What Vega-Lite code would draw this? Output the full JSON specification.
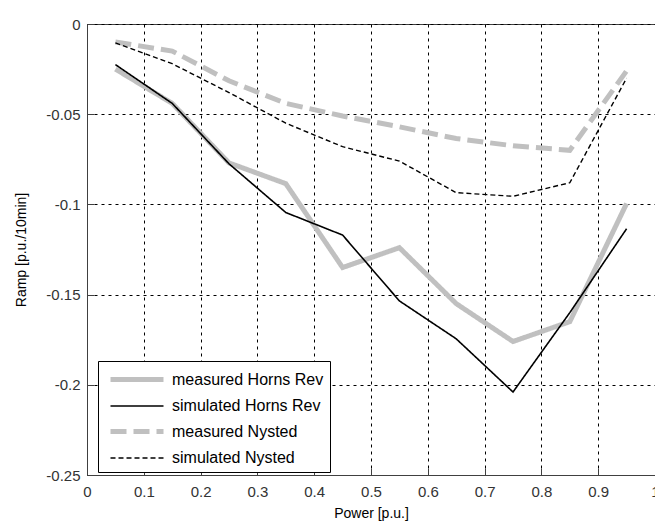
{
  "$schema": "https://vega.github.io/schema/vega-lite/v6.json",
  "width": 568,
  "height": 451,
  "autosize": {"type": "none"},
  "padding": {"left": 87, "top": 24, "right": 0, "bottom": 48},
  "background": "white",
  "data": {
    "values": [
      {"series": "measured Horns Rev", "power": 0.05, "ramp": -0.025},
      {"series": "measured Horns Rev", "power": 0.15, "ramp": -0.044},
      {"series": "measured Horns Rev", "power": 0.25, "ramp": -0.077},
      {"series": "measured Horns Rev", "power": 0.35, "ramp": -0.0885},
      {"series": "measured Horns Rev", "power": 0.45, "ramp": -0.135},
      {"series": "measured Horns Rev", "power": 0.55, "ramp": -0.124},
      {"series": "measured Horns Rev", "power": 0.65, "ramp": -0.155},
      {"series": "measured Horns Rev", "power": 0.75, "ramp": -0.176},
      {"series": "measured Horns Rev", "power": 0.85, "ramp": -0.165},
      {"series": "measured Horns Rev", "power": 0.95, "ramp": -0.0995},
      {"series": "simulated Horns Rev", "power": 0.05, "ramp": -0.0225},
      {"series": "simulated Horns Rev", "power": 0.15, "ramp": -0.044},
      {"series": "simulated Horns Rev", "power": 0.25, "ramp": -0.0775},
      {"series": "simulated Horns Rev", "power": 0.35, "ramp": -0.1045},
      {"series": "simulated Horns Rev", "power": 0.45, "ramp": -0.117},
      {"series": "simulated Horns Rev", "power": 0.55, "ramp": -0.1535},
      {"series": "simulated Horns Rev", "power": 0.65, "ramp": -0.1745},
      {"series": "simulated Horns Rev", "power": 0.75, "ramp": -0.204},
      {"series": "simulated Horns Rev", "power": 0.85, "ramp": -0.160},
      {"series": "simulated Horns Rev", "power": 0.95, "ramp": -0.1135},
      {"series": "measured Nysted", "power": 0.05, "ramp": -0.010},
      {"series": "measured Nysted", "power": 0.15, "ramp": -0.015},
      {"series": "measured Nysted", "power": 0.25, "ramp": -0.0315},
      {"series": "measured Nysted", "power": 0.35, "ramp": -0.044},
      {"series": "measured Nysted", "power": 0.45, "ramp": -0.051},
      {"series": "measured Nysted", "power": 0.55, "ramp": -0.057},
      {"series": "measured Nysted", "power": 0.65, "ramp": -0.0635},
      {"series": "measured Nysted", "power": 0.75, "ramp": -0.0675},
      {"series": "measured Nysted", "power": 0.85, "ramp": -0.070},
      {"series": "measured Nysted", "power": 0.95, "ramp": -0.026},
      {"series": "simulated Nysted", "power": 0.05, "ramp": -0.0105},
      {"series": "simulated Nysted", "power": 0.15, "ramp": -0.022},
      {"series": "simulated Nysted", "power": 0.25, "ramp": -0.038},
      {"series": "simulated Nysted", "power": 0.35, "ramp": -0.055},
      {"series": "simulated Nysted", "power": 0.45, "ramp": -0.068},
      {"series": "simulated Nysted", "power": 0.55, "ramp": -0.076},
      {"series": "simulated Nysted", "power": 0.65, "ramp": -0.0935},
      {"series": "simulated Nysted", "power": 0.75, "ramp": -0.0955},
      {"series": "simulated Nysted", "power": 0.85, "ramp": -0.088},
      {"series": "simulated Nysted", "power": 0.95, "ramp": -0.030}
    ]
  },
  "encoding": {
    "x": {
      "field": "power", "type": "quantitative",
      "scale": {"domain": [0, 1], "nice": false, "zero": false},
      "axis": {
        "title": "Power [p.u.]",
        "values": [0, 0.1, 0.2, 0.3, 0.4, 0.5, 0.6, 0.7, 0.8, 0.9, 1],
        "labelExpr": "'' + datum.value",
        "tickSize": -7,
        "labelPadding": 16,
        "titleY": 38,
        "titleBaseline": "middle"
      }
    },
    "y": {
      "field": "ramp", "type": "quantitative",
      "scale": {"domain": [-0.25, 0], "nice": false, "zero": false},
      "axis": {
        "title": "Ramp [p.u./10min]",
        "values": [0, -0.05, -0.1, -0.15, -0.2, -0.25],
        "labelExpr": "'' + datum.value",
        "tickSize": -7,
        "labelPadding": 14,
        "titleX": -66,
        "titleBaseline": "middle"
      }
    },
    "color": {
      "field": "series", "type": "nominal",
      "scale": {
        "domain": ["measured Horns Rev", "simulated Horns Rev", "measured Nysted", "simulated Nysted"],
        "range": ["#c0c0c0", "#000000", "#c0c0c0", "#000000"]
      },
      "legend": {
        "title": null,
        "orient": "none",
        "legendX": 11,
        "legendY": 337,
        "symbolType": "M-0.6,0H4.7",
        "symbolSize": 400,
        "labelFontSize": 16,
        "labelOffset": 43,
        "rowPadding": 5,
        "padding": 6,
        "strokeColor": "#000000",
        "fillColor": "#ffffff",
        "labelColor": "#000000",
        "labelFont": "Liberation Sans"
      }
    },
    "strokeDash": {
      "field": "series", "type": "nominal",
      "scale": {
        "type": "ordinal",
        "domain": ["measured Horns Rev", "simulated Horns Rev", "measured Nysted", "simulated Nysted"],
        "range": [[1, 0], [1, 0], [16, 7], [5, 3]]
      }
    },
    "strokeWidth": {
      "field": "series", "type": "nominal",
      "scale": {
        "type": "ordinal",
        "domain": ["measured Horns Rev", "simulated Horns Rev", "measured Nysted", "simulated Nysted"],
        "range": [5, 1.6, 5, 1.4]
      }
    }
  },
  "layer": [
    {
      "transform": [{"filter": "indexof(datum.series, 'measured') == 0"}],
      "mark": {"type": "line", "strokeJoin": "miter", "strokeCap": "butt"}
    },
    {
      "transform": [{"filter": "indexof(datum.series, 'simulated') == 0"}],
      "mark": {"type": "line", "strokeJoin": "miter", "strokeCap": "butt"}
    }
  ],
  "config": {
    "font": "Liberation Sans",
    "view": {"stroke": "#404040", "strokeWidth": 1},
    "axis": {
      "domainColor": "#404040",
      "tickColor": "#404040",
      "gridColor": "#000000",
      "gridOpacity": 1,
      "gridDash": [3, 4],
      "gridWidth": 1,
      "labelFontSize": 15,
      "labelColor": "#333333",
      "labelFont": "Liberation Sans",
      "titleFontSize": 14,
      "titleFontWeight": "normal",
      "titleColor": "#000000",
      "titleFont": "Liberation Sans",
      "labelOverlap": false,
      "labelFlush": false
    }
  }
}
